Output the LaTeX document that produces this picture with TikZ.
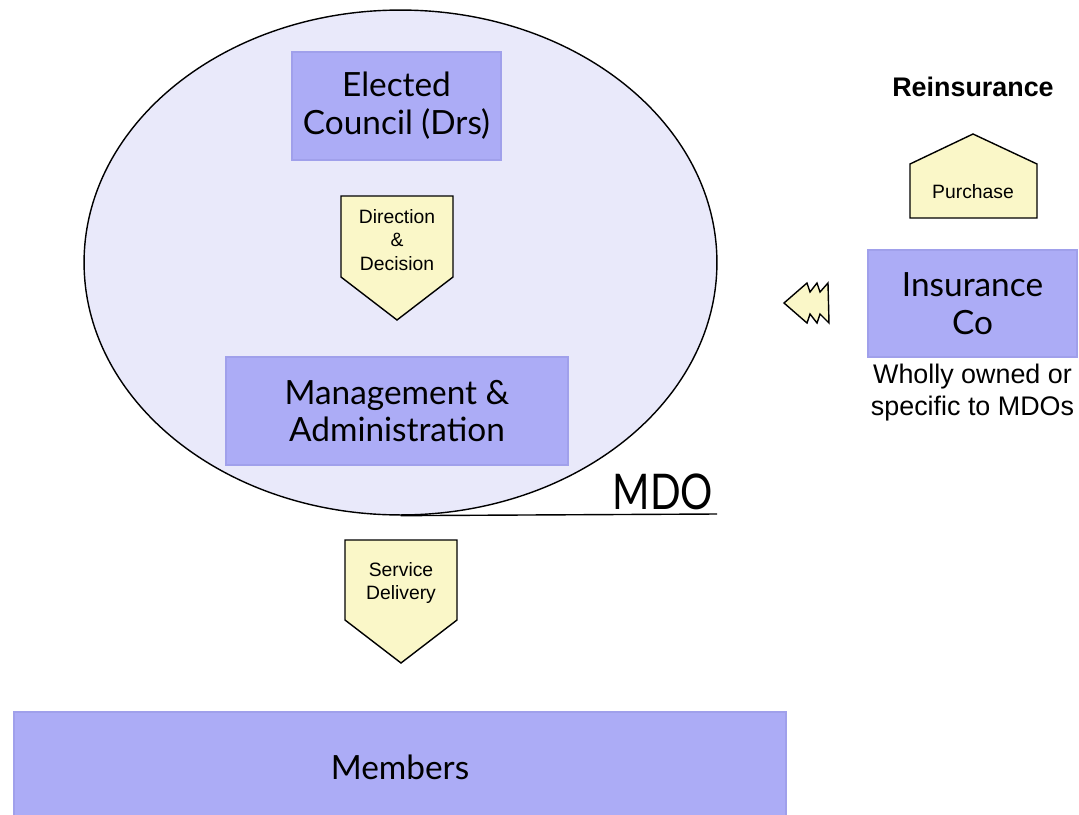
\documentclass[tikz,border=0pt]{standalone}
\usepackage{fontspec}
\setmainfont{Liberation Sans}
\newfontfamily\bigfont{Lato}
\usetikzlibrary{shapes.geometric,positioning}
\definecolor{boxblue}{RGB}{172,172,246}
\definecolor{boxedge}{RGB}{160,160,235}
\definecolor{padyellow}{RGB}{250,247,200}
\definecolor{ovalfill}{RGB}{233,233,250}
\tikzset{
  bluebox/.style={rectangle,fill=boxblue,draw=boxedge,line width=0.8pt,align=center,
    font=\bigfont\fontsize{19}{21.5}\selectfont},
  padshape/.style={fill=padyellow,draw=black,line width=0.8pt,line join=miter},
  padtext/.style={align=center,font=\fontsize{11}{13.6}\selectfont}
}
\begin{document}
\begin{tikzpicture}[x=0.02cm,y=-0.02cm]
\useasboundingbox (0,0) rectangle (1079,815);
% the MDO oval
\node (mdo) [ellipse,fill=ovalfill,draw=black,line width=0.8pt,
  minimum width=12.66cm,minimum height=10.1cm] at (400.5,262.5) {};
\coordinate (mdoend) at (717,514);
\draw[line width=0.8pt] (mdo.south) -- (mdoend);
\node (mdolabel) [anchor=south east,inner sep=2pt,font=\bigfont\fontsize{28}{30}\selectfont]
  at (mdoend) {\scalebox{0.82}[1]{MDO}};
%
\node (council) [bluebox,minimum width=4.18cm,minimum height=2.16cm] at (396.5,106)
  {Elected\\Council (Drs)};
\node (mgmt) [bluebox,minimum width=6.84cm,minimum height=2.16cm] at (397,411)
  {Management \&\\Administration};
\node (members) [bluebox,minimum width=15.44cm,minimum height=2.4cm] at (400,772)
  {\raisebox{0.3em}{Members}};
\node (insurer) [bluebox,minimum width=4.18cm,minimum height=2.14cm] at (972.5,303.5)
  {Insurance\\Co};
%
% down pointers
\draw[padshape] (341,196) -- (453,196) -- (453,277) -- (397,320) -- (341,277) -- cycle;
\node (direction) [padtext] at (397,240) {Direction\\\&\\Decision};
\draw[padshape] (345,540) -- (457,540) -- (457,620) -- (401,663) -- (345,620) -- cycle;
\node (service) [padtext] at (401,583) {Service\\Delivery};
%
% reinsurance side
\node (reins) [font=\bfseries\fontsize{15.3}{17}\selectfont] at (973,87) {Reinsurance};
\draw[padshape] (910,218) -- (910,164) -- (973,134) -- (1037,164) -- (1037,218) -- cycle;
\node (purchase) [padtext] at (973,192) {Purchase};
\node (owned) [below=0pt of insurer,align=center,font=\fontsize{15.3}{18}\selectfont]
  {Wholly owned or\\specific to MDOs};
\draw[padshape] (784,303) -- (807,283) -- (810,292) -- (817,283) -- (820,292) -- (828,283)
  -- (829,323) -- (820,314) -- (817,323) -- (810,314) -- (807,323) -- cycle;
\end{tikzpicture}
\end{document}
